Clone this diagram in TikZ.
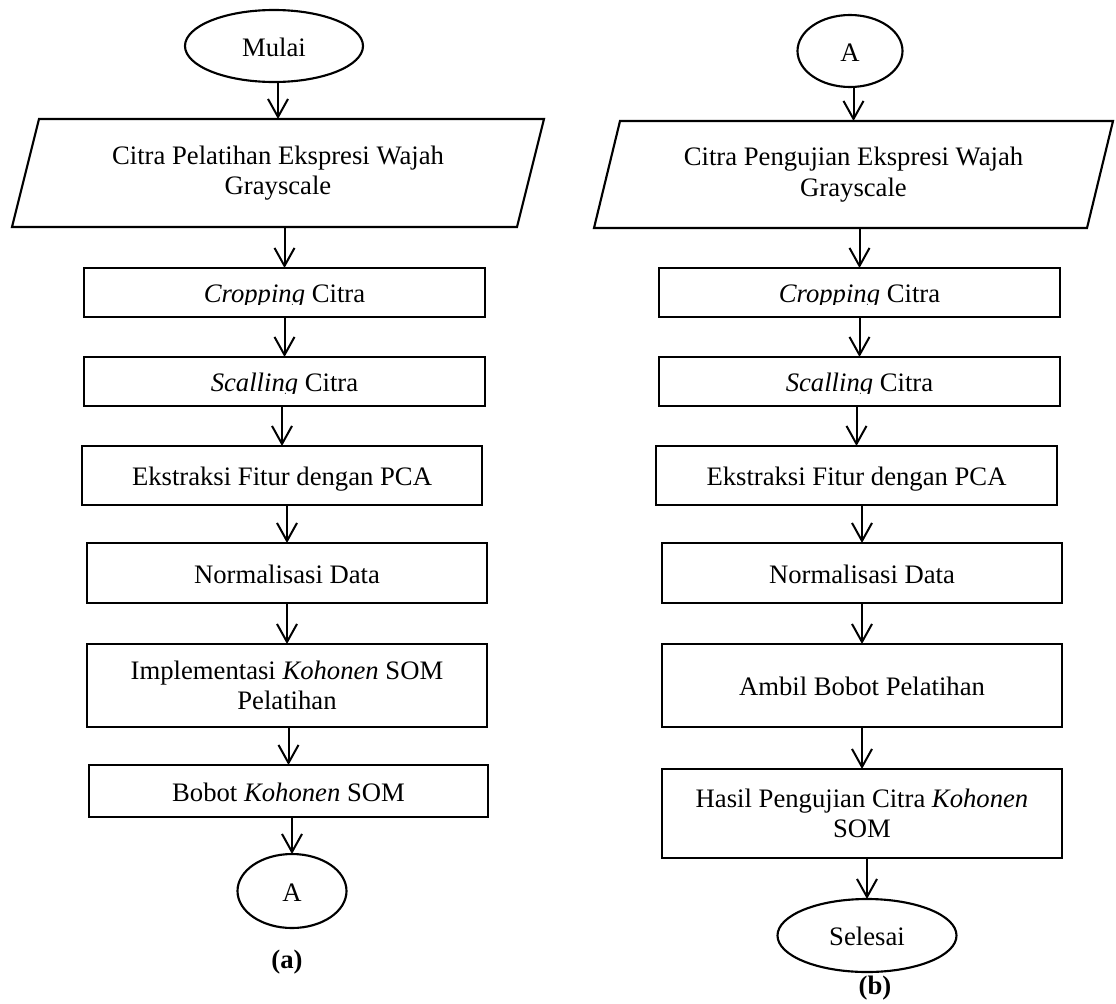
\documentclass[tikz,border=0pt]{standalone}
\usepackage{fontspec}
\setmainfont{Liberation Serif}
\usetikzlibrary{arrows.meta,shapes.geometric,calc}
\newcommand{\fsz}{\fontsize{20pt}{23pt}\selectfont}
\tikzset{
  sz/.style 2 args={minimum width={#1*0.75pt}, minimum height={#2*0.75pt}},
  box/.style={draw, line width=1.6pt, rectangle, inner sep=0pt, outer sep=0pt, align=center, font=\fsz},
  one/.style={text height=15pt, text depth=0pt},
  term/.style={draw, ellipse, line width=1.6pt, inner sep=0pt, outer sep=0pt, font=\fsz, one},
  ghost/.style={rectangle, inner sep=0pt, outer sep=0pt, align=center, font=\fsz},
  lbl/.style={inner sep=0pt, font=\fsz\bfseries, anchor=base},
  arr/.style={line width=1.5pt, -{Straight Barb[length=13.5pt,width=15pt]}},
  para/.style={line width=1.6pt, line join=miter},
}
\begin{document}
\begin{tikzpicture}[x=0.75pt,y=-0.75pt]
\useasboundingbox (0,0) rectangle (1116,1003);
\fill[white] (0,0) rectangle (1116,1003);

% ---------- left column ----------
\node[term, sz={178}{72}] (mulai) at (274,46) {Mulai};
\node[ghost, sz={505}{108}] (paraL) at (278,173) {Citra Pelatihan Ekspresi Wajah\\Grayscale};
\draw[para] ($(paraL.north west)+(13.5,0)$) -- ($(paraL.north east)+(13.5,0)$)
  -- ($(paraL.south east)+(-13.5,0)$) -- ($(paraL.south west)+(-13.5,0)$) -- cycle;
\node[box, sz={401}{49}] (crop1) at (284.5,292.5) {};
\begin{scope}
  \clip (80,268) rectangle (490,304);
  \node[ghost, one] (crop1t) at (crop1.center) {\textit{Cropping} Citra};
\end{scope}
\node[box, sz={401}{49}] (scal1) at (284.5,381.5) {};
\begin{scope}
  \clip (80,357) rectangle (490,393);
  \node[ghost, one] (scal1t) at (scal1.center) {\textit{Scalling} Citra};
\end{scope}
\node[box, one, sz={400}{59}] (ekst1) at (282,475.5) {Ekstraksi Fitur dengan PCA};
\node[box, one, sz={400}{60}] (norm1) at (287,573) {Normalisasi Data};
\node[box, sz={400}{83}] (impl1) at (287,685.5) {Implementasi \textit{Kohonen} SOM\\Pelatihan};
\node[box, one, sz={399}{52}] (bobot1) at (288.5,791) {Bobot \textit{Kohonen} SOM};
\node[term, sz={109}{74}] (A1) at (292,891) {A};
\node[lbl] (capa) at (287,968) {(a)};

\draw[arr] (mulai.south -| paraL.north) -- (paraL.north);
\draw[arr] (paraL.south -| crop1.north) -- (crop1.north);
\draw[arr] (crop1.south -| scal1.north) -- (scal1.north);
\draw[arr] (scal1.south -| ekst1.north) -- (ekst1.north);
\draw[arr] (ekst1.south -| norm1.north) -- (norm1.north);
\draw[arr] (norm1.south -| impl1.north) -- (impl1.north);
\draw[arr] (impl1.south -| bobot1.north) -- (bobot1.north);
\draw[arr] (bobot1.south -| A1.north) -- (A1.north);

% ---------- right column ----------
\node[term, sz={105}{72}] (A2) at (850,51) {A};
\node[ghost, sz={493}{107}] (paraR) at (853.5,174.5) {Citra Pengujian Ekspresi Wajah\\Grayscale};
\draw[para] ($(paraR.north west)+(13,0)$) -- ($(paraR.north east)+(13,0)$)
  -- ($(paraR.south east)+(-13,0)$) -- ($(paraR.south west)+(-13,0)$) -- cycle;
\node[box, sz={401}{49}] (crop2) at (859.5,292.5) {};
\begin{scope}
  \clip (655,268) rectangle (1065,304);
  \node[ghost, one] (crop2t) at (crop2.center) {\textit{Cropping} Citra};
\end{scope}
\node[box, sz={401}{49}] (scal2) at (859.5,381.5) {};
\begin{scope}
  \clip (655,357) rectangle (1065,393);
  \node[ghost, one] (scal2t) at (scal2.center) {\textit{Scalling} Citra};
\end{scope}
\node[box, one, sz={401}{59}] (ekst2) at (856.5,475.5) {Ekstraksi Fitur dengan PCA};
\node[box, one, sz={400}{60}] (norm2) at (862,573) {Normalisasi Data};
\node[box, one, sz={400}{83}] (ambil2) at (862,685.5) {Ambil Bobot Pelatihan};
\node[box, sz={400}{89}] (hasil2) at (862,813.5) {Hasil Pengujian Citra \textit{Kohonen}\\SOM};
\node[term, sz={179}{73}] (sel2) at (867,935.5) {Selesai};
\node[lbl] (capb) at (875,994) {(b)};

\draw[arr] (A2.south -| paraR.north) -- (paraR.north);
\draw[arr] (paraR.south -| crop2.north) -- (crop2.north);
\draw[arr] (crop2.south -| scal2.north) -- (scal2.north);
\draw[arr] (scal2.south -| ekst2.north) -- (ekst2.north);
\draw[arr] (ekst2.south -| norm2.north) -- (norm2.north);
\draw[arr] (norm2.south -| ambil2.north) -- (ambil2.north);
\draw[arr] (ambil2.south -| hasil2.north) -- (hasil2.north);
\draw[arr] (hasil2.south -| sel2.north) -- (sel2.north);
\end{tikzpicture}
\end{document}
